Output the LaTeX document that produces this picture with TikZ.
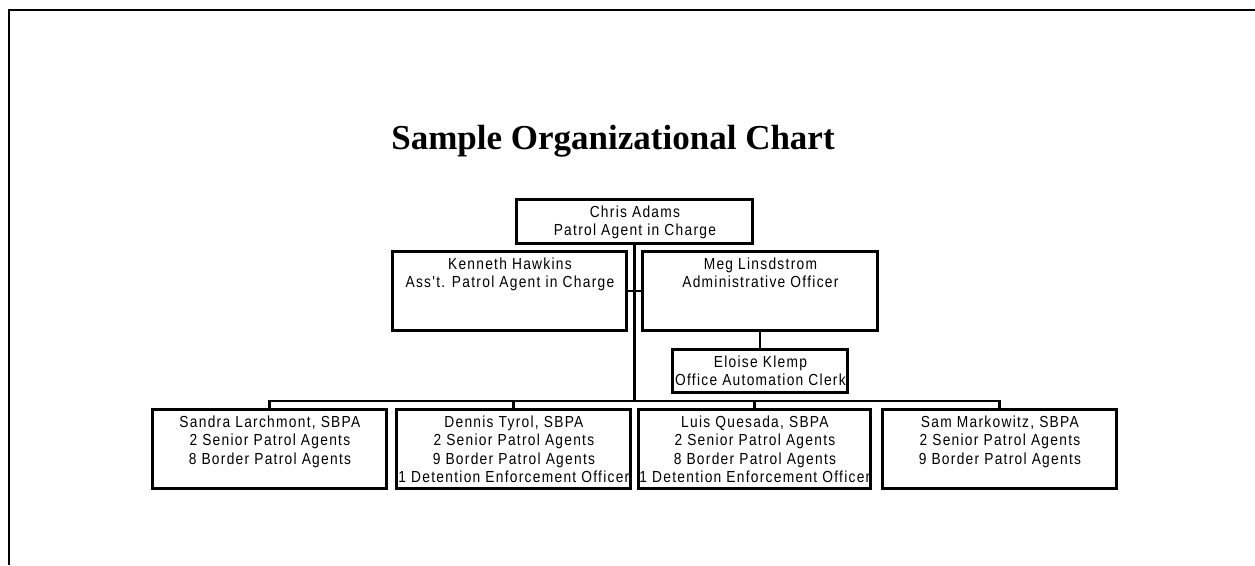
\documentclass[tikz,border=0pt]{standalone}
\usepackage{fontspec}
\setmainfont{Liberation Serif}
\newfontfamily\chartfont[FakeStretch=0.86,LetterSpace=8]{Liberation Sans}
\begin{document}
\begin{tikzpicture}[x=1pt,y=-1pt,
  frame/.style={line width=2.7pt},
  orgbox/.style={draw, line width=2.6pt, rectangle, inner sep=0pt, anchor=north west},
  boxtext/.style={anchor=north, inner sep=0pt, yshift=-7.5pt, xshift=0.6pt, align=center,
     font=\chartfont\fontsize{16}{18.5}\selectfont},
  link/.style={line width=2.6pt}]
\useasboundingbox (0,0) rectangle (1255,565);
% frame
\coordinate (fbl) at (9,565);
\coordinate (ftl) at (9,10);
\coordinate (ftr) at (1255,10);
\draw[frame] (fbl) -- (ftl) -- (ftr);
% title
\node[anchor=base, inner sep=0pt, font=\bfseries\fontsize{35}{40}\selectfont] (title) at (613,149) {Sample Organizational Chart};
% boxes
\node[orgbox, minimum width=236pt, minimum height=44pt] (chris) at (515,198) {};
\node[boxtext] at (chris.north) {Chris Adams\\Patrol Agent in Charge};
\node[orgbox, minimum width=234pt, minimum height=79pt] (kenneth) at (391,250) {};
\node[boxtext] at (kenneth.north) {Kenneth Hawkins\\Ass't. Patrol Agent in Charge};
\node[orgbox, minimum width=235pt, minimum height=79pt] (meg) at (641,250) {};
\node[boxtext] at (meg.north) {Meg Linsdstrom\\Administrative Officer};
\node[orgbox, minimum width=175pt, minimum height=43pt] (eloise) at (671,348) {};
\node[boxtext] at (eloise.north) {Eloise Klemp\\Office Automation Clerk};
\node[orgbox, minimum width=234pt, minimum height=79pt] (sandra) at (151,408) {};
\node[boxtext] at (sandra.north) {Sandra Larchmont, SBPA\\2 Senior Patrol Agents\\8 Border Patrol Agents};
\node[orgbox, minimum width=234pt, minimum height=79pt] (dennis) at (395,408) {};
\node[boxtext] at (dennis.north) {Dennis Tyrol, SBPA\\2 Senior Patrol Agents\\9 Border Patrol Agents\\1 Detention Enforcement Officer};
\node[orgbox, minimum width=232pt, minimum height=79pt] (luis) at (637,408) {};
\node[boxtext] at (luis.north) {Luis Quesada, SBPA\\2 Senior Patrol Agents\\8 Border Patrol Agents\\1 Detention Enforcement Officer};
\node[orgbox, minimum width=234pt, minimum height=79pt] (sam) at (881,408) {};
\node[boxtext] at (sam.north) {Sam Markowitz, SBPA\\2 Senior Patrol Agents\\9 Border Patrol Agents};
% connectors
\coordinate (bus) at (633,401);
\draw[link] (chris.south) -- (chris.south |- bus);
\draw[link] (kenneth.east) -- (meg.west);
\draw[link] (meg.south) -- (eloise.north);
\draw[link] (sandra.north) -- (sandra.north |- bus) -- (sam.north |- bus) -- (sam.north);
\draw[link] (dennis.north) -- (dennis.north |- bus);
\draw[link] (luis.north) -- (luis.north |- bus);
\end{tikzpicture}
\end{document}
